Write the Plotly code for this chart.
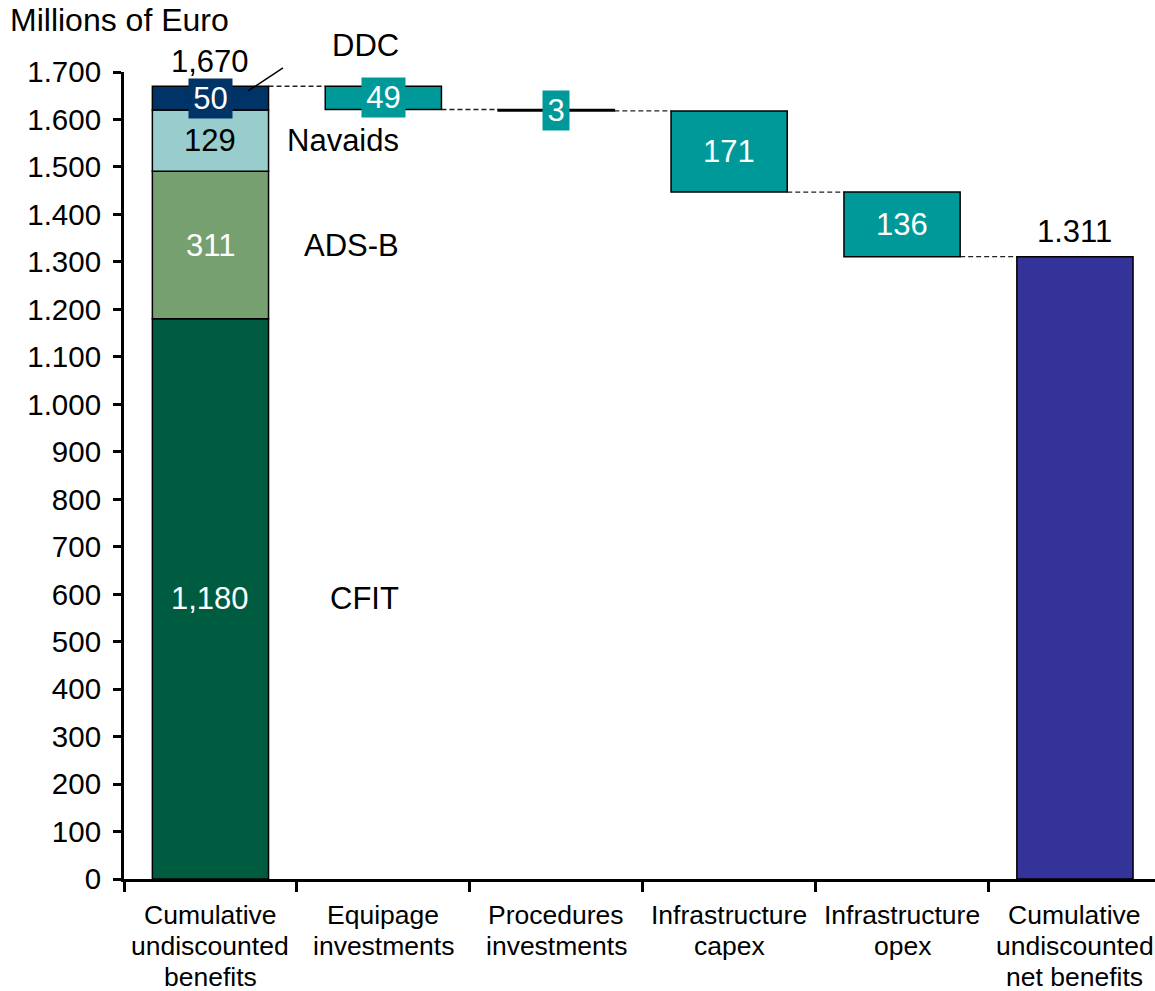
import plotly.graph_objects as go

# ---------------- data ----------------
category_lines = [
    ["Cumulative", "undiscounted", "benefits"],
    ["Equipage", "investments"],
    ["Procedures", "investments"],
    ["Infrastructure", "capex"],
    ["Infrastructure", "opex"],
    ["Cumulative", "undiscounted", "net benefits"],
]
benefit_names = ["CFIT", "ADS-B", "Navaids", "DDC"]
benefit_values = [1180, 311, 129, 50]
benefit_labels = ["1,180", "311", "129", "50"]
benefit_total_label = "1,670"
cost_values = [49, 3, 171, 136]
cost_labels = ["49", "3", "171", "136"]
net_label = "1.311"
y_tick_values = list(range(0, 1701, 100))

# ---------------- styles ----------------
FONT = "Liberation Sans, Arial, sans-serif"
benefit_colors = ["#005C40", "#76A06F", "#99CCCC", "#003366"]
benefit_text_colors = ["white", "white", "black", "white"]
benefit_boxed = [False, False, False, True]
cost_color = "#009999"
cost_boxed = [True, True, False, False]
net_color = "#333399"
W = 0.672
OUT = dict(color="black", width=1.5)
DASH = dict(color="#222222", width=1.3, dash="5px,3px")
LBL = 31

fig = go.Figure()

# stacked benefits bar
base = 0
for name, v, col, lab, tcol, boxed in zip(benefit_names, benefit_values, benefit_colors,
                                           benefit_labels, benefit_text_colors, benefit_boxed):
    fig.add_trace(go.Bar(x=[0], y=[v], base=[base], width=W, marker=dict(color=col, line=OUT),
                         name=name, hoverinfo="skip"))
    mid = base + v / 2
    ann = dict(x=0, y=mid, xref="x", yref="y", text=lab, showarrow=False,
               font=dict(family=FONT, size=LBL, color=tcol))
    if boxed:
        ann.update(bgcolor=col, borderpad=2, width=39, height=35)
    fig.add_annotation(**ann)
    # side name label
    if name == "DDC":
        fig.add_annotation(x=1.1, y=1, xref="x", yref="paper", yshift=27, yanchor="middle",
                           text=name, showarrow=False, xanchor="right",
                           font=dict(family=FONT, size=LBL, color="black"))
    else:
        fig.add_annotation(x=1.1, y=mid, xref="x", yref="y",
                           text=name, showarrow=False, xanchor="right",
                           font=dict(family=FONT, size=LBL, color="black"))
    base += v
total = base

fig.add_annotation(x=0, y=total, xref="x", yref="y", text=benefit_total_label, showarrow=False,
                   yanchor="bottom", yshift=5, font=dict(family=FONT, size=LBL, color="black"))

# leader line for DDC
fig.add_shape(type="line", xref="paper", yref="paper", x0=0.1542, y0=1.005, x1=0.1203, y1=0.9765,
              line=dict(color="black", width=1.5))

# cost (waterfall) bars
level = total
prev_edge = 0 + W / 2
for i, (v, lab, boxed) in enumerate(zip(cost_values, cost_labels, cost_boxed), start=1):
    fig.add_shape(type="line", xref="x", yref="y", x0=prev_edge, x1=i - W / 2, y0=level, y1=level,
                  line=DASH, layer="below")
    new_level = level - v
    fig.add_trace(go.Bar(x=[i], y=[v], base=[new_level], width=W,
                         marker=dict(color=cost_color, line=OUT), hoverinfo="skip"))
    ann = dict(x=i, y=new_level + v / 2, xref="x", yref="y", text=lab, showarrow=False,
               font=dict(family=FONT, size=LBL, color="white"))
    if boxed:
        ann.update(bgcolor=cost_color, borderpad=2, width=39 if len(lab) > 1 else 22, height=35)
    fig.add_annotation(**ann)
    level = new_level
    prev_edge = i + W / 2

net = level
fig.add_shape(type="line", xref="x", yref="y", x0=prev_edge, x1=5 - W / 2, y0=net, y1=net,
              line=DASH, layer="below")
fig.add_trace(go.Bar(x=[5], y=[net], base=[0], width=W, marker=dict(color=net_color, line=OUT),
                     hoverinfo="skip"))
fig.add_annotation(x=5, y=net, xref="x", yref="y", text=net_label, showarrow=False,
                   yanchor="bottom", yshift=6, font=dict(family=FONT, size=LBL, color="black"))

# category labels (one annotation per line)
for i, lines in enumerate(category_lines):
    for j, line in enumerate(lines):
        fig.add_annotation(x=i, y=0, xref="x", yref="paper", text=line, showarrow=False,
                           yanchor="middle", yshift=-(36 + 31 * j),
                           font=dict(family=FONT, size=26.5, color="black"))

# axis title
fig.add_annotation(x=0, y=1, xref="paper", yref="paper", text="Millions of Euro", showarrow=False,
                   xanchor="left", yanchor="middle", xshift=-116, yshift=52,
                   font=dict(family=FONT, size=32, color="black"))

fig.update_layout(
    width=1155, height=991,
    margin=dict(l=124, r=0, t=72, b=112),
    paper_bgcolor="white", plot_bgcolor="white",
    barmode="overlay", showlegend=False,
    separators=",.",
    font=dict(family=FONT, color="black"),
    xaxis=dict(range=[-0.5, 5.463], tickvals=[k - 0.5 for k in range(6)], ticktext=[""] * 6,
               showline=True, linecolor="black", linewidth=3, ticks="outside", ticklen=10,
               tickwidth=3, tickcolor="black", showgrid=False, zeroline=False),
    yaxis=dict(range=[0, 1700], tickvals=y_tick_values, tickformat=",d",
               showline=True, linecolor="black", linewidth=3, ticks="outside", ticklen=8,
               tickwidth=3, tickcolor="black", showgrid=False, zeroline=False,
               ticklabelstandoff=6,
               tickfont=dict(family=FONT, size=29.5, color="black")),
)

fig.write_html("out.html", config={"displayModeBar": False},
               post_script="document.body.style.margin='0';")
